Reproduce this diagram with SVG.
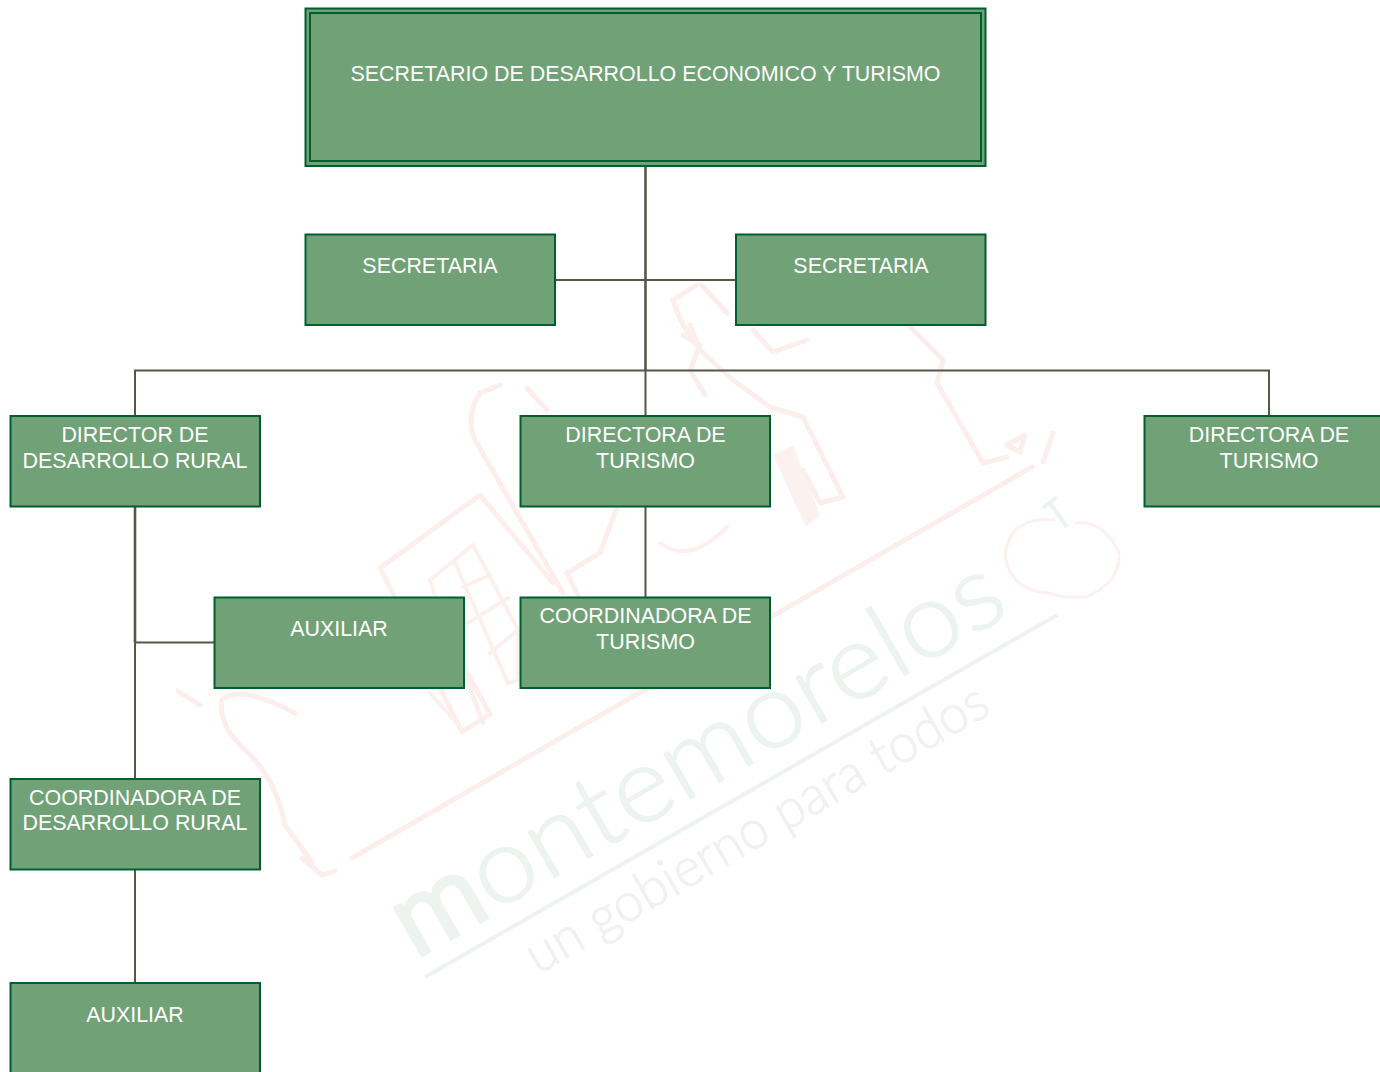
<svg xmlns="http://www.w3.org/2000/svg" width="1380" height="1072" viewBox="0 0 1380 1072">
<style>
.box{fill:#71a176;stroke:#005f2e;stroke-width:2}
.inner{fill:none;stroke:#005f2e;stroke-width:2}
.t{font-family:"Liberation Sans",Arial,sans-serif;font-size:21.43px;fill:#fff;text-anchor:middle}
.c{fill:none;stroke:#55574b;stroke-width:2}
.c2{fill:none;stroke:#55574b;stroke-width:2.6}
.wr{fill:none;stroke:#fbeeec;stroke-width:5;stroke-linejoin:round;stroke-linecap:round}
.wr2{fill:none;stroke:#fbf0ee;stroke-width:4;stroke-linejoin:round;stroke-linecap:round}
.wg{fill:none;stroke:#edf3ef;stroke-width:4}
</style>
<defs><filter id="soft" x="0" y="0" width="100%" height="100%"><feGaussianBlur stdDeviation="0.7"/></filter></defs>
<rect width="1380" height="1072" fill="#fff"/>
<g id="watermark" filter="url(#soft)">
<path class="wr" d="M176 690L200 705M222 700Q240 684 295 713M222 700Q218 722 240 745Q275 775 285 825L312 862M302 858L322 875L335 871"/>
<path class="wr" d="M352 858L1032 467"/>
<path class="wr" d="M380 568L480 495L553 583M380 568L462 732L490 714L430 605M475 440Q465 415 480 393L500 385M527 388L547 410M475 440L563 593"/>
<path class="wr2" d="M430 580L473 545L518 630L518 680L508 683L455 563M463 587L490 575M468 623L508 598M490 653L518 630M430 580L460 680M430 693L463 730"/>
<path class="wr" d="M567 573L600 553L617 507M567 573L590 620M467 680L483 723"/>
<path class="wr" d="M673 300L700 283L727 313M673 300Q680 325 700 350L733 380L770 407L803 417L843 497L820 503L803 470M690 325L700 350M683 335L700 345L690 370L705 395"/>
<path class="wr" d="M753 330L773 352L807 340"/>
<path fill="#fbf1ef" d="M773 455L793 445L820 515L806 527Z"/>
<path class="wr2" d="M660 543Q690 565 727 527"/>
<path class="wr" d="M910 327L943 360L937 383L983 463L1007 457M1007 445L1025 435L1020 452ZM1053 433L1043 462"/>
<path fill="none" stroke="#fcf1ef" stroke-width="3" d="M1055 520Q1010 515 1005 555Q1010 590 1048 593Q1060 598 1085 597Q1118 585 1120 555Q1105 520 1075 523"/>
<path class="wg" d="M1057 497L1043 508M1050 503L1067 527"/>
<path class="wg" d="M425 977L1057 615"/>
<text x="415" y="958" transform="rotate(-30 415 958)" textLength="690" lengthAdjust="spacingAndGlyphs" style="font-family:Lato,'Liberation Sans',sans-serif;font-weight:300;font-size:105px;fill:#edf3ef;stroke:#edf3ef;stroke-width:1.5"><tspan style="stroke-width:6">m</tspan>ontemorelos</text>
<text x="538" y="975" transform="rotate(-30 538 975)" textLength="525" lengthAdjust="spacingAndGlyphs" style="font-family:Lato,'Liberation Sans',sans-serif;font-weight:300;font-size:54px;fill:#f1f1f1;stroke:#f1f1f1;stroke-width:1">un gobierno para todos</text>
</g>
<g id="connectors">
<path class="c2" d="M645.5 166V370"/>
<path class="c" d="M645.5 370V416M135 416V370.5H1269V416M555 280H736M645.5 507V597M135 642.500H214M135 869V983"/>
<path class="c2" d="M135 507V642"/>
<path class="c" d="M135 642V779"/>
</g>
<g id="n1"><rect class="box" x="305.500" y="8.500" width="680" height="157.500"/><rect class="inner" x="310" y="13" width="671" height="148"/><text class="t" x="645.500" y="81">SECRETARIO DE DESARROLLO ECONOMICO Y TURISMO</text></g>
<g id="n2"><rect class="box" x="305.500" y="234.500" width="249.500" height="90.500"/><text class="t" x="430" y="273">SECRETARIA</text></g>
<g id="n3"><rect class="box" x="736" y="234.500" width="249.500" height="90.500"/><text class="t" x="861" y="273">SECRETARIA</text></g>
<g id="n4"><rect class="box" x="10.500" y="416" width="249.500" height="90.500"/><text class="t" x="135" y="442">DIRECTOR DE</text><text class="t" x="135" y="468">DESARROLLO RURAL</text></g>
<g id="n5"><rect class="box" x="520.500" y="416" width="249.500" height="90.500"/><text class="t" x="645.500" y="442">DIRECTORA DE</text><text class="t" x="645.500" y="468">TURISMO</text></g>
<g id="n6"><rect class="box" x="1144.500" y="416" width="249.500" height="90.500"/><text class="t" x="1269" y="442">DIRECTORA DE</text><text class="t" x="1269" y="468">TURISMO</text></g>
<g id="n7"><rect class="box" x="214.500" y="597.500" width="249.500" height="90.500"/><text class="t" x="339" y="636">AUXILIAR</text></g>
<g id="n8"><rect class="box" x="520.500" y="597.500" width="249.500" height="90.500"/><text class="t" x="645.500" y="623">COORDINADORA DE</text><text class="t" x="645.500" y="649">TURISMO</text></g>
<g id="n9"><rect class="box" x="10.500" y="779" width="249.500" height="90.500"/><text class="t" x="135" y="805">COORDINADORA DE</text><text class="t" x="135" y="830">DESARROLLO RURAL</text></g>
<g id="n10"><rect class="box" x="10.500" y="983" width="249.500" height="120"/><text class="t" x="135" y="1022">AUXILIAR</text></g>
</svg>
